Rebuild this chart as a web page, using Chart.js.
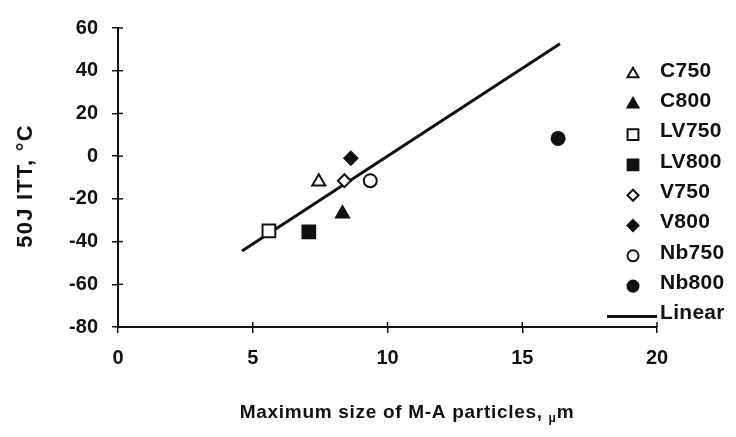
<!DOCTYPE html>
<html><head><meta charset="utf-8">
<script src="https://cdn.jsdelivr.net/npm/chart.js@4.4.1/dist/chart.umd.min.js"></script>
<style>html,body{margin:0;padding:0;background:#fff}#wrap{width:736px;height:437px;position:relative}</style>
</head><body><div id="wrap"><canvas id="c" width="736" height="437"></canvas></div>
<script>
// ---- data ----
const seriesNames = ['C750','C800','LV750','LV800','V750','V800','Nb750','Nb800'];
const xValues = [7.45, 8.33, 5.6, 7.08, 8.4, 8.64, 9.36, 16.33];
const yValues = [-12, -27, -35, -35.5, -11.5, -1, -11.5, 8.3];
const lineName = 'Linear';
const lineX = [4.6, 16.4];
const lineY = [-44.4, 52.6];
const xTicks = [0, 5, 10, 15, 20];
const yTicks = [-80, -60, -40, -20, 0, 20, 40, 60];
const xTitle = 'Maximum size of M-A particles, ';
const xTitleMu = 'μ';
const xTitleM = 'm';
const yTitle = '50J ITT, °C';

// ---- styles ----
const markerShapes = ['triangle','triangle','rect','rect','rectRot','rectRot','circle','circle'];
const markerFilled = [false,true,false,true,false,true,false,true];
const markerRadius = {triangle: 7.5, rect: 9, rectRot: 6.5, circle: 6.5};
const INK = '#111';
const FONT = '"Liberation Sans", Arial, sans-serif';

const datasets = seriesNames.map((name, i) => ({
  label: name,
  data: [{x: xValues[i], y: yValues[i]}],
  pointStyle: markerShapes[i],
  pointRadius: markerRadius[markerShapes[i]],
  pointHoverRadius: markerRadius[markerShapes[i]],
  pointBackgroundColor: markerFilled[i] ? INK : '#fff',
  pointBorderColor: INK,
  pointBorderWidth: 2,
  showLine: false
}));
datasets.push({
  label: lineName,
  data: lineX.map((x, i) => ({x: x, y: lineY[i]})),
  showLine: true,
  borderColor: INK,
  borderWidth: 3,
  pointRadius: 0,
  pointHoverRadius: 0
});

function drawMarker(ctx, shape, x, y, r, filled) {
  ctx.save();
  ctx.beginPath();
  if (shape === 'triangle') {
    ctx.moveTo(x, y - r);
    ctx.lineTo(x + r * Math.sin(Math.PI / 3), y + r * 0.5);
    ctx.lineTo(x - r * Math.sin(Math.PI / 3), y + r * 0.5);
    ctx.closePath();
  } else if (shape === 'rect') {
    const s = r * Math.SQRT1_2;
    ctx.rect(x - s, y - s, 2 * s, 2 * s);
  } else if (shape === 'rectRot') {
    ctx.moveTo(x, y - r); ctx.lineTo(x + r, y); ctx.lineTo(x, y + r); ctx.lineTo(x - r, y);
    ctx.closePath();
  } else {
    ctx.arc(x, y, r, 0, Math.PI * 2);
  }
  ctx.fillStyle = filled ? INK : '#fff';
  ctx.fill();
  ctx.lineWidth = 2;
  ctx.strokeStyle = INK;
  ctx.stroke();
  ctx.restore();
}

const decor = {
  id: 'decor',
  afterDraw(chart) {
    const ctx = chart.ctx;
    const xs = chart.scales.x, ys = chart.scales.y;
    const area = chart.chartArea;
    ctx.save();
    // inner halves of tick marks
    ctx.strokeStyle = INK; ctx.lineWidth = 1.5;
    yTicks.forEach(v => {
      const p = ys.getPixelForValue(v);
      ctx.beginPath(); ctx.moveTo(area.left, p); ctx.lineTo(area.left + 5, p); ctx.stroke();
    });
    xTicks.forEach(v => {
      const p = xs.getPixelForValue(v);
      ctx.beginPath(); ctx.moveTo(p, area.bottom); ctx.lineTo(p, area.bottom - 5); ctx.stroke();
    });
    // legend
    ctx.fillStyle = INK;
    ctx.font = 'bold 21px ' + FONT;
    ctx.letterSpacing = '0.3px';
    ctx.textAlign = 'left';
    ctx.textBaseline = 'middle';
    const lx = 633, tx = 660, ly0 = 71, step = 30.3;
    seriesNames.forEach((name, i) => {
      const y = ly0 + i * step;
      drawMarker(ctx, markerShapes[i], lx, y + 3, markerRadius[markerShapes[i]] * 0.85, markerFilled[i]);
      ctx.fillText(name, tx, y);
    });
    const yl = ly0 + seriesNames.length * step;
    ctx.beginPath(); ctx.lineWidth = 3; ctx.moveTo(607, yl + 3); ctx.lineTo(657, yl + 3); ctx.stroke();
    ctx.fillText(lineName, tx, yl);
    // x title
    ctx.font = 'bold 19px ' + FONT;
    ctx.letterSpacing = '0.7px';
    ctx.textBaseline = 'alphabetic';
    const w1 = ctx.measureText(xTitle).width;
    ctx.font = 'bold 12px ' + FONT;
    const w2 = ctx.measureText(xTitleMu).width;
    ctx.font = 'bold 19px ' + FONT;
    const w3 = ctx.measureText(xTitleM).width;
    let sx = 407 - (w1 + w2 + w3) / 2;
    const by = 418;
    ctx.fillText(xTitle, sx, by);
    ctx.font = 'bold 12px ' + FONT;
    ctx.fillText(xTitleMu, sx + w1, by + 4);
    ctx.font = 'bold 19px ' + FONT;
    ctx.fillText(xTitleM, sx + w1 + w2, by);
    // y title
    ctx.translate(26, 186);
    ctx.rotate(-Math.PI / 2);
    ctx.font = 'bold 22px ' + FONT;
    ctx.letterSpacing = '1.2px';
    ctx.textAlign = 'center';
    ctx.textBaseline = 'middle';
    ctx.fillText(yTitle, 0, 0);
    ctx.restore();
  }
};

new Chart(document.getElementById('c'), {
  type: 'scatter',
  data: {datasets: datasets},
  options: {
    responsive: false,
    animation: false,
    devicePixelRatio: 1,
    layout: {padding: {left: 0, right: 79, top: 28, bottom: 0}},
    plugins: {legend: {display: false}, tooltip: {enabled: false}},
    scales: {
      x: {
        type: 'linear', min: 0, max: 20,
        afterBuildTicks: s => { s.ticks = xTicks.map(v => ({value: v})); },
        afterFit: s => { s.height = 110; },
        grid: {drawOnChartArea: false, drawTicks: true, tickLength: 6, color: INK, lineWidth: 1.5},
        border: {display: true, color: INK, width: 2},
        ticks: {color: INK, padding: 13, font: {family: FONT, size: 20, weight: 'bold'}, maxRotation: 0}
      },
      y: {
        type: 'linear', min: -80, max: 60,
        afterBuildTicks: s => { s.ticks = yTicks.map(v => ({value: v})); },
        afterFit: s => { s.width = 118; },
        grid: {drawOnChartArea: false, drawTicks: true, tickLength: 6, color: INK, lineWidth: 1.5},
        border: {display: true, color: INK, width: 2},
        ticks: {color: INK, padding: 14, font: {family: FONT, size: 20, weight: 'bold'}}
      }
    }
  },
  plugins: [decor]
});
</script></body></html>
